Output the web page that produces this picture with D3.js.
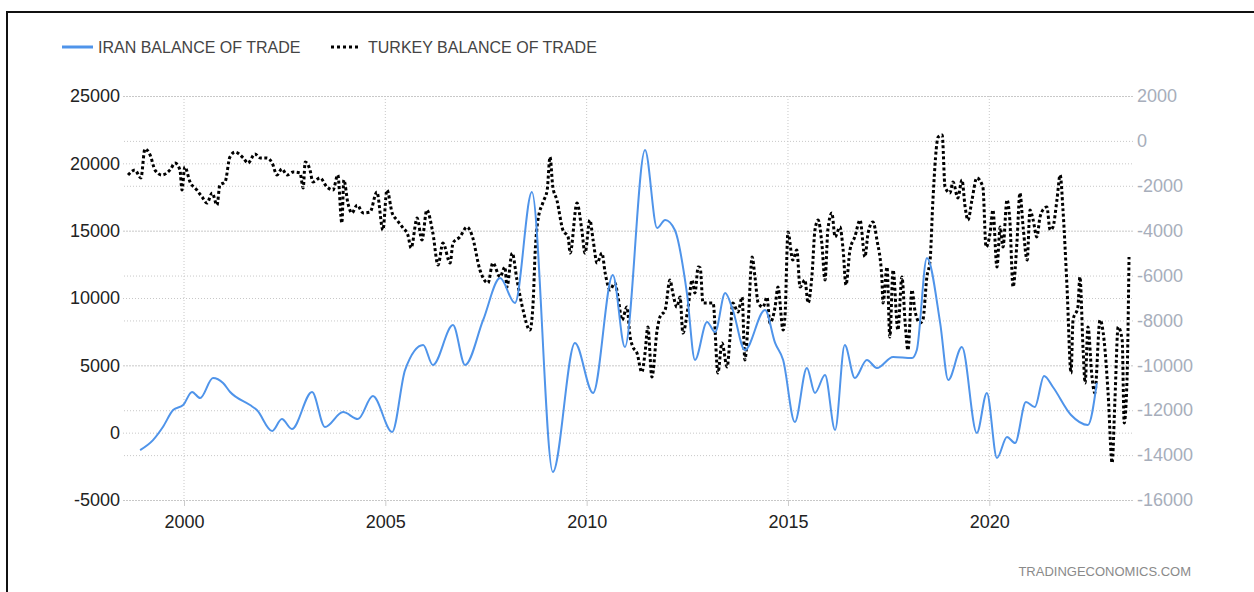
<!DOCTYPE html>
<html><head><meta charset="utf-8">
<script src="https://cdn.jsdelivr.net/npm/d3@7"></script>
<style>
body{margin:0;background:#fff;}
svg{display:block;font-family:"Liberation Sans",Arial,sans-serif;}
</style>
</head><body>
<svg id="chart" width="1254" height="592"></svg>
<script>
// ---- data ----
const seriesNames = ["IRAN BALANCE OF TRADE", "TURKEY BALANCE OF TRADE"];
const yearTicks = [2000, 2005, 2010, 2015, 2020];
const leftTicks = [-5000, 0, 5000, 10000, 15000, 20000, 25000];
const rightTicks = [-16000, -14000, -12000, -10000, -8000, -6000, -4000, -2000, 0, 2000];

const iranDates = [1998.91,1999.23,1999.48,1999.73,1999.98,2000.20,2000.40,2000.72,2000.97,2001.14,2001.64,2001.81,2002.19,2002.43,2002.68,2003.18,2003.50,2003.95,2004.32,2004.69,2005.17,2005.49,2005.94,2006.18,2006.68,2006.98,2007.43,2007.85,2008.22,2008.64,2009.16,2009.71,2010.16,2010.65,2010.95,2011.45,2011.75,2011.95,2012.19,2012.49,2012.69,2012.99,2013.19,2013.44,2013.63,2013.93,2014.43,2014.68,2014.88,2015.17,2015.47,2015.67,2015.92,2016.17,2016.41,2016.66,2016.96,2017.21,2017.61,2018.08,2018.20,2018.45,2018.78,2018.98,2019.32,2019.69,2019.94,2020.19,2020.44,2020.64,2020.91,2021.13,2021.36,2021.58,2022.03,2022.45,2022.67];
const iranValues = [-1290,-550,440,1680,2050,3020,2570,4060,3690,3040,2050,1680,120,1010,270,3020,420,1530,1010,2720,50,4650,6510,5020,7990,5020,8370,11480,9630,17870,-2920,6660,2950,11710,6360,20990,15200,15790,15050,10370,5400,8220,7470,10370,9110,6140,9110,6660,5400,790,4800,2950,4280,200,6510,4060,5400,4800,5620,5540,6140,12970,8140,3910,6360,-30,2950,-1880,-320,-770,2280,1900,4210,3390,1310,570,3690];

const turkeyDates = [1998.61,1998.78,1998.93,1999.03,1999.16,1999.28,1999.45,1999.65,1999.78,1999.90,1999.95,2000.02,2000.15,2000.32,2000.45,2000.57,2000.70,2000.82,2000.89,2001.02,2001.14,2001.27,2001.47,2001.59,2001.76,2001.89,2002.06,2002.19,2002.31,2002.43,2002.56,2002.71,2002.88,2002.96,2003.01,2003.13,2003.20,2003.38,2003.55,2003.70,2003.82,2003.92,2003.97,2004.07,2004.17,2004.30,2004.45,2004.62,2004.79,2004.94,2005.04,2005.17,2005.29,2005.44,2005.56,2005.64,2005.79,2005.91,2006.03,2006.18,2006.31,2006.43,2006.61,2006.68,2006.85,2007.03,2007.15,2007.35,2007.55,2007.67,2007.85,2007.97,2008.02,2008.15,2008.27,2008.42,2008.59,2008.67,2008.72,2008.79,2008.92,2009.02,2009.09,2009.16,2009.26,2009.41,2009.54,2009.59,2009.76,2009.88,2009.96,2010.08,2010.16,2010.26,2010.38,2010.46,2010.58,2010.70,2010.78,2010.88,2011.00,2011.08,2011.15,2011.25,2011.37,2011.45,2011.52,2011.62,2011.75,2011.82,2011.95,2012.07,2012.14,2012.24,2012.32,2012.39,2012.52,2012.62,2012.69,2012.77,2012.82,2012.89,2013.14,2013.26,2013.36,2013.49,2013.56,2013.63,2013.76,2013.86,2013.93,2014.01,2014.11,2014.18,2014.26,2014.38,2014.48,2014.55,2014.68,2014.75,2014.88,2014.93,2015.00,2015.12,2015.22,2015.30,2015.42,2015.50,2015.60,2015.67,2015.75,2015.84,2015.92,2015.99,2016.09,2016.17,2016.29,2016.37,2016.44,2016.54,2016.66,2016.79,2016.91,2016.99,2017.11,2017.21,2017.33,2017.36,2017.46,2017.53,2017.61,2017.73,2017.83,2017.91,2017.98,2018.08,2018.15,2018.28,2018.35,2018.45,2018.53,2018.60,2018.73,2018.83,2018.90,2019.02,2019.10,2019.22,2019.32,2019.40,2019.47,2019.57,2019.69,2019.84,2019.92,2020.02,2020.09,2020.19,2020.27,2020.34,2020.44,2020.51,2020.59,2020.69,2020.76,2020.84,2020.94,2021.01,2021.09,2021.18,2021.26,2021.33,2021.43,2021.51,2021.58,2021.68,2021.76,2021.83,2021.93,2022.03,2022.08,2022.20,2022.25,2022.33,2022.38,2022.45,2022.55,2022.62,2022.75,2022.85,2022.95,2023.05,2023.12,2023.20,2023.30,2023.35,2023.42,2023.47];
const turkeyValues = [-1520,-1300,-1650,-360,-630,-1300,-1520,-1300,-990,-1300,-2190,-1160,-1830,-2190,-2500,-2770,-2320,-2860,-1970,-1830,-720,-500,-760,-990,-580,-760,-760,-990,-1520,-1250,-1520,-1390,-1430,-2100,-940,-1300,-1830,-1650,-2050,-2190,-1520,-3660,-1740,-2770,-3210,-2860,-3210,-3170,-2280,-3970,-2190,-3210,-3530,-3880,-4190,-4770,-3440,-4420,-3080,-4100,-5530,-4550,-5440,-4550,-4280,-3840,-4190,-5750,-6330,-5440,-6060,-5620,-6510,-5000,-6200,-7530,-8430,-7220,-5000,-3530,-2720,-2190,-720,-2050,-2630,-3970,-4280,-5000,-2770,-3970,-5000,-3530,-4420,-5440,-5000,-5890,-6640,-6330,-6960,-7980,-7400,-8740,-9180,-9450,-10300,-9450,-8290,-10520,-8430,-7850,-7530,-6200,-6780,-7400,-6960,-8560,-7400,-6200,-6780,-5620,-5660,-7220,-7220,-10340,-9000,-10070,-8740,-7220,-7620,-6960,-9760,-8110,-5170,-6060,-7220,-7400,-6960,-8110,-7400,-6510,-8430,-7670,-4060,-5310,-4860,-6510,-6200,-7220,-5890,-3970,-3530,-4550,-6200,-3970,-3210,-4280,-3840,-4860,-6420,-4860,-4280,-3530,-5170,-4100,-3610,-4420,-6060,-7220,-5620,-8740,-5750,-8430,-6060,-8110,-9320,-6640,-7530,-8110,-7980,-6060,-5310,-2630,170,260,-2050,-2320,-1830,-2540,-1740,-2950,-3530,-2630,-1650,-2050,-4730,-4100,-3080,-5620,-3840,-4730,-2630,-3530,-6510,-4420,-2320,-3840,-5310,-3080,-3530,-4280,-3390,-3080,-2950,-3970,-3840,-2630,-1520,-3080,-6510,-10340,-7980,-7400,-6060,-9320,-10790,-8290,-10520,-11230,-7980,-8870,-11230,-14350,-11540,-8290,-8870,-12570,-10650,-5170];

// ---- layout ----
const svg = d3.select("#chart");
const plotL = 123, plotR = 1133, plotT = 96, plotB = 500;
const x = d3.scaleLinear().domain([2000, 2020]).range([184, 989.3]);
const yL = d3.scaleLinear().domain([-5000, 25000]).range([plotB, plotT]);
const yR = d3.scaleLinear().domain([-16000, 2000]).range([plotB, plotT]);
const fmt = d => String(d);

// frame
svg.append("path").attr("d", `M7,592 V12 H1254`).attr("fill","none").attr("stroke","#111").attr("stroke-width",2);

const gridColor = "#c8c8c8";
// right-axis grid + labels
const gR = svg.append("g").attr("transform", `translate(${plotR},0)`)
  .call(d3.axisRight(yR).tickValues(rightTicks).tickSize(-(plotR - plotL)).tickPadding(4).tickFormat(fmt));
gR.select(".domain").remove();
gR.selectAll(".tick line").attr("stroke", gridColor).attr("stroke-dasharray", "1,2");
gR.selectAll(".tick text").attr("fill", "#a7aebb").style("font-size", "18px").attr("x", 4);

// left-axis grid + labels
const gL = svg.append("g").attr("transform", `translate(${plotL},0)`)
  .call(d3.axisLeft(yL).tickValues(leftTicks).tickSize(-(plotR - plotL)).tickPadding(3).tickFormat(fmt));
gL.select(".domain").remove();
gL.selectAll(".tick line").attr("stroke", gridColor).attr("stroke-dasharray", "1,2");
gL.selectAll(".tick text").attr("fill", "#222").style("font-size", "18px");

// vertical grid
svg.append("g").selectAll("line").data(yearTicks).join("line")
  .attr("x1", d => x(d)).attr("x2", d => x(d)).attr("y1", plotT).attr("y2", plotB)
  .attr("stroke", gridColor).attr("stroke-dasharray", "1,2");

// bottom axis
const gB = svg.append("g").attr("transform", `translate(0,${plotB})`)
  .call(d3.axisBottom(x).tickValues(yearTicks).tickSize(6).tickPadding(9).tickFormat(fmt));
gB.select(".domain").remove();
gB.selectAll(".tick line").attr("stroke", "#ccc");
gB.selectAll(".tick text").attr("fill", "#222").style("font-size", "18px");

// lines
const iran = iranDates.map((d, i) => [d, iranValues[i]]);
const turkey = turkeyDates.map((d, i) => [d, turkeyValues[i]]);

svg.append("path").datum(turkey)
  .attr("d", d3.line().x(d => x(d[0])).y(d => yR(d[1])).curve(d3.curveMonotoneX))
  .attr("fill", "none").attr("stroke", "#000").attr("stroke-width", 3).attr("stroke-dasharray", "3,2.5");

svg.append("path").datum(iran)
  .attr("d", d3.line().x(d => x(d[0])).y(d => yL(d[1])).curve(d3.curveMonotoneX))
  .attr("fill", "none").attr("stroke", "#4f94ea").attr("stroke-width", 2);

// legend
const lg = svg.append("g");
lg.append("line").attr("x1", 62).attr("x2", 93).attr("y1", 47).attr("y2", 47).attr("stroke", "#4f94ea").attr("stroke-width", 3);
lg.append("text").attr("x", 98).attr("y", 47).attr("dy", "0.35em").text(seriesNames[0]).attr("fill", "#444").style("font-size", "16px");
lg.append("line").attr("x1", 331).attr("x2", 361).attr("y1", 47).attr("y2", 47).attr("stroke", "#000").attr("stroke-width", 3).attr("stroke-dasharray", "3,3");
lg.append("text").attr("x", 368).attr("y", 47).attr("dy", "0.35em").text(seriesNames[1]).attr("fill", "#444").style("font-size", "16px");

// watermark
svg.append("text").attr("x", 1191).attr("y", 571).attr("dy", "0.35em").attr("text-anchor", "end")
  .attr("fill", "#8a8a8a").style("font-size", "13px").text("TRADINGECONOMICS.COM");
</script>
</body></html>
